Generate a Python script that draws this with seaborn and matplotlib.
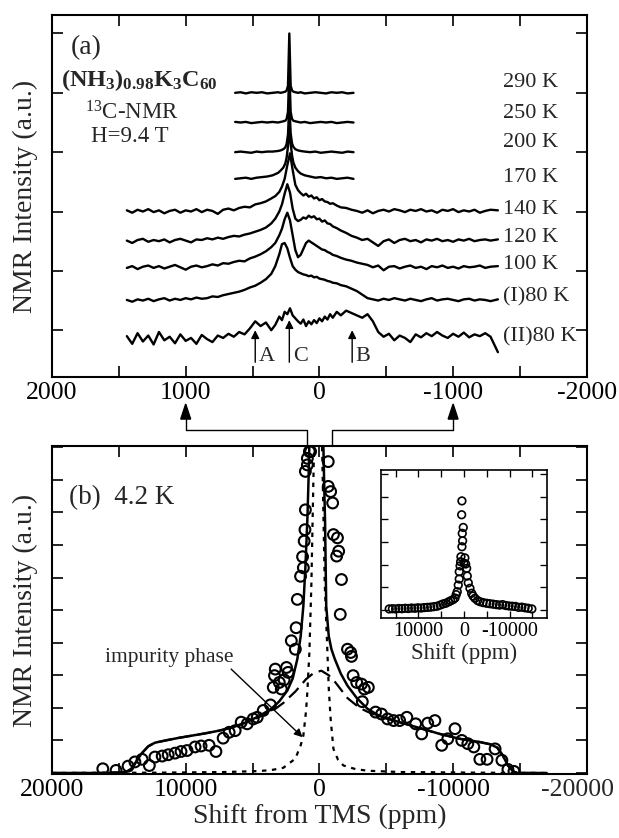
import matplotlib
matplotlib.use('Agg')
import matplotlib.pyplot as plt
from matplotlib.lines import Line2D
from matplotlib.ticker import MultipleLocator
import seaborn as sns

# ---------------- panel (a): spectra vs temperature ----------------
x_wide = [1440, 1400, 1360, 1320, 1280, 1240, 1200, 1160, 1120, 1080, 1040, 1000, 960, 920,
          880, 840, 800, 760, 720, 680, 640, 600, 560, 520, 480, 440, 400, 360, 330, 300,
          280, 260, 240, 220, 200, 180, 160, 140, 120, 100, 80, 60, 40, 20, 0, -20, -40,
          -60, -80, -100, -130, -160, -200, -240, -280, -320, -360, -400, -440, -480, -520,
          -560, -600, -640, -680, -720, -760, -800, -840, -880, -920, -960, -1000, -1040,
          -1080, -1120, -1160, -1200, -1240, -1280, -1335]

h_140 = [0.02, -0.02, 0.03, 0.0, 0.04, -0.01, 0.02, -0.03, 0.01, 0.03, -0.02, 0.02, 0.0, 0.04,
         -0.01, 0.03, 0.01, -0.04, 0.03, 0.05, 0.02, 0.06, 0.08, 0.07, 0.12, 0.14, 0.17, 0.22,
         0.26, 0.33, 0.42, 0.55, 0.78, 0.98, 0.70, 0.45, 0.36, 0.31, 0.27, 0.30, 0.25, 0.27,
         0.22, 0.24, 0.19, 0.21, 0.17, 0.16, 0.13, 0.14, 0.10, 0.07, 0.06, 0.03, 0.01, -0.02,
         0.02, -0.03, 0.01, 0.03, 0.0, 0.04, 0.02, -0.01, 0.03, 0.01, 0.04, 0.0, 0.02, -0.02,
         0.03, 0.01, 0.04, -0.01, 0.02, 0.0, 0.03, -0.02, 0.01, 0.03, 0.02]
h_120 = [0.01, -0.03, 0.02, 0.04, -0.01, 0.02, 0.0, 0.03, -0.02, 0.02, 0.04, 0.01, -0.02, 0.03,
         0.02, 0.05, 0.03, 0.06, 0.04, 0.07, 0.09, 0.08, 0.11, 0.13, 0.16, 0.19, 0.23, 0.30,
         0.38, 0.50, 0.62, 0.80, 0.96, 0.82, 0.55, 0.38, 0.34, 0.36, 0.40, 0.38, 0.43, 0.40,
         0.42, 0.37, 0.38, 0.33, 0.35, 0.30, 0.29, 0.25, 0.22, 0.18, 0.14, 0.09, 0.06, 0.02,
         0.04, -0.02, -0.08, 0.0, 0.03, -0.03, 0.02, 0.04, 0.0, 0.02, -0.02, 0.03, 0.01, 0.04,
         0.0, 0.02, -0.01, 0.03, 0.01, 0.04, 0.0, 0.02, 0.03, 0.01, 0.03]
h_100 = [0.0, 0.03, -0.02, 0.02, 0.04, 0.0, 0.03, -0.01, 0.02, 0.05, 0.01, -0.03, 0.02, 0.04,
         0.01, 0.03, 0.06, 0.04, 0.08, 0.07, 0.10, 0.12, 0.11, 0.16, 0.19, 0.23, 0.28, 0.35,
         0.42, 0.55, 0.66, 0.82, 0.93, 0.80, 0.55, 0.30, 0.18, 0.22, 0.32, 0.42, 0.46, 0.43,
         0.40, 0.37, 0.34, 0.31, 0.30, 0.27, 0.25, 0.22, 0.20, 0.17, 0.14, 0.12, 0.09, 0.07,
         0.05, 0.01, 0.04, -0.04, 0.02, 0.03, -0.01, 0.02, 0.04, 0.0, 0.02, -0.02, 0.03, 0.01,
         0.04, 0.0, 0.02, -0.01, 0.03, 0.01, 0.02, 0.04, 0.0, 0.02, 0.03]
h_80a = [0.01, -0.02, 0.02, 0.0, 0.03, -0.01, 0.02, 0.04, 0.0, 0.03, 0.01, 0.04, 0.02, 0.05,
         0.03, 0.04, 0.07, 0.06, 0.09, 0.11, 0.13, 0.15, 0.18, 0.22, 0.25, 0.30, 0.36, 0.45,
         0.58, 0.78, 0.95, 0.97, 0.88, 0.72, 0.58, 0.52, 0.48, 0.46, 0.44, 0.43, 0.41, 0.42,
         0.39, 0.40, 0.37, 0.36, 0.35, 0.33, 0.32, 0.30, 0.29, 0.26, 0.24, 0.20, 0.16, 0.10,
         0.04, 0.02, 0.0, 0.03, 0.01, 0.04, 0.02, 0.0, 0.03, 0.01, -0.01, 0.02, 0.04, 0.0,
         0.02, 0.03, 0.01, -0.01, 0.02, 0.03, 0.0, 0.02, 0.01, -0.01, 0.02]
h_80b = [0.05, -0.08, 0.10, -0.04, 0.06, -0.09, 0.12, -0.02, 0.04, -0.07, 0.08, -0.03, 0.02,
         -0.08, 0.07, 0.0, -0.05, 0.06, 0.02, 0.09, 0.04, 0.12, 0.08, 0.18, 0.30, 0.22, 0.28,
         0.15, 0.24, 0.38, 0.32, 0.46, 0.42, 0.52, 0.40, 0.35, 0.30, 0.26, 0.33, 0.22, 0.30,
         0.25, 0.32, 0.27, 0.35, 0.30, 0.38, 0.33, 0.42, 0.36, 0.46, 0.40, 0.48, 0.44, 0.40,
         0.36, 0.42, 0.30, 0.12, 0.04, 0.09, -0.02, 0.06, 0.02, -0.05, 0.08, 0.03, 0.10, 0.05,
         0.12, 0.06, 0.02, 0.09, 0.04, 0.11, 0.03, 0.08, 0.05, 0.10, 0.04, -0.22]

x_narrow = [630, 590, 550, 510, 470, 430, 390, 350, 310, 290, 270, 255, 245, 235, 225, 215,
            205, 195, 180, 160, 140, 110, 70, 30, -10, -50, -90, -130, -170, -210, -255]
h_290 = [0.0, 0.01, -0.01, 0.01, 0.0, 0.01, -0.01, 0.0, 0.01, 0.0, 0.01, 0.02, 0.04, 0.12, 1.0,
         0.12, 0.04, 0.02, 0.01, 0.0, 0.01, -0.01, 0.0, 0.01, 0.0, -0.01, 0.01, 0.0, 0.01, -0.01, 0.0]
h_250 = [0.01, 0.0, 0.01, -0.01, 0.0, 0.01, 0.0, 0.01, 0.0, 0.01, 0.02, 0.03, 0.06, 0.18, 0.9,
         0.18, 0.06, 0.03, 0.02, 0.01, 0.0, 0.01, -0.01, 0.0, 0.01, 0.0, 0.01, -0.01, 0.0, 0.01, 0.0]
h_200 = [0.0, 0.01, 0.0, -0.01, 0.01, 0.0, 0.01, 0.01, 0.02, 0.03, 0.05, 0.08, 0.14, 0.30, 0.80,
         0.32, 0.15, 0.09, 0.05, 0.03, 0.02, 0.01, 0.0, 0.01, -0.01, 0.0, 0.01, 0.0, -0.01, 0.01, 0.0]
h_170 = [0.0, 0.01, 0.02, 0.0, 0.02, 0.03, 0.04, 0.06, 0.10, 0.14, 0.19, 0.26, 0.36, 0.55, 0.88,
         0.60, 0.40, 0.28, 0.19, 0.13, 0.09, 0.06, 0.04, 0.02, 0.03, 0.01, 0.02, 0.0, 0.01, 0.02, 0.0]

temps = ['290 K', '250 K', '200 K', '170 K', '140 K', '120 K', '100 K', '(I)80 K', '(II)80 K']
offsets = [5.0, 4.5, 4.0, 3.55, 3.0, 2.5, 2.05, 1.5, 0.85]
peak_pos = [480, 225, -245]
peak_names = ['A', 'C', 'B']

# ---------------- panel (b): 4.2 K spectrum ----------------
x_circ = [16200, 15210, 14310, 13800, 13260, 12720, 12300, 11760, 11310, 10800, 10350, 9900,
          9300, 8850, 8250, 7740, 7200, 6750, 6300, 5850, 5400, 4950, 4650, 4200, 3660, 3450,
          3360, 3300, 3000, 2850, 2640, 2460, 2340, 2100, 1800, 1740, 1650, 1410, 1200, 1260,
          1140, 1080, 1050, 1050, 900, 900, 750, 660,
          -660, -660, -840, -990, -1050, -1350, -1440, -1290, -1650, -1560, -2100, -2340, -2400,
          -2520, -2790, -3150, -3360, -3660, -3210, -4200, -4650, -5100, -5550, -6000, -6540,
          -7200, -7650, -8100, -8640, -9150, -9600, -10140, -10650, -11100, -11550, -12000,
          -12540, -13140, -13650, -14100, -14550]
y_circ = [0.13, 0.08, 0.21, 0.34, 0.42, 0.23, 0.49, 0.52, 0.56, 0.61, 0.66, 0.69, 0.80, 0.83,
          0.85, 0.66, 1.07, 1.25, 1.30, 1.56, 1.51, 1.66, 1.71, 1.92, 2.09, 2.63, 2.99, 3.19,
          2.78, 2.58, 2.86, 3.24, 3.09, 4.06, 3.80, 4.46, 5.33, 6.04, 6.30, 6.64, 7.12, 7.47,
          8.08, 9.26, 9.46, 9.66, 9.87, 9.87,
          9.56, 8.80, 8.64, 8.29, 7.32, 7.22, 6.81, 6.66, 5.94, 4.87, 3.80, 3.70, 3.58, 2.99,
          2.78, 2.73, 2.58, 2.63, 2.19, 1.87, 1.81, 1.66, 1.61, 1.61, 1.71, 1.51, 1.20, 1.53,
          1.61, 0.85, 1.05, 1.36, 1.00, 0.90, 0.80, 0.42, 0.42, 0.74, 0.39, 0.11, 0.05]

x_fit = [20000, 16500, 14500, 14000, 13700, 13300, 12800, 12300, 11500, 10500, 9500, 8500,
         7500, 6500, 5500, 4500, 3600, 3000, 2400, 2000, 1650, 1400, 1200, 1050, 900, 800,
         700, 250, -250, -350, -420, -510, -700, -900, -1150, -1600, -2100, -2800, -3600,
         -4500, -6000, -7500, -9000, -10500, -12000, -12800, -13300, -13700, -14100, -14500,
         -14800, -17000]
y_fit = [0.0, 0.0, 0.02, 0.15, 0.35, 0.60, 0.82, 0.93, 1.00, 1.08, 1.15, 1.22, 1.30, 1.40,
         1.55, 1.75, 1.97, 2.20, 2.53, 2.90, 3.50, 4.20, 5.13, 6.30, 7.78, 9.20, 11.0, 14.0,
         11.0, 9.0, 7.78, 5.13, 4.20, 3.80, 3.50, 3.05, 2.68, 2.30, 1.97, 1.75, 1.56, 1.38,
         1.20, 1.05, 0.95, 0.88, 0.78, 0.55, 0.23, 0.05, 0.0, 0.0]

x_broad = [20000, 16500, 14500, 14000, 13700, 13300, 12800, 12300, 11500, 10500, 9500, 8500,
           7500, 6500, 5500, 4500, 3600, 2700, 1800, 1000, 400, -150, -700, -1200, -2100,
           -3000, -3600, -4500, -6000, -7500, -9000, -10500, -12000, -12800, -13300, -13700,
           -14100, -14500, -14800, -16800]
y_broad = [0.0, 0.0, 0.02, 0.15, 0.35, 0.60, 0.82, 0.93, 1.00, 1.08, 1.15, 1.22, 1.30, 1.40,
           1.55, 1.72, 1.88, 2.15, 2.50, 2.88, 3.08, 3.14, 3.00, 2.78, 2.30, 2.00, 1.88, 1.73,
           1.56, 1.38, 1.20, 1.05, 0.95, 0.88, 0.78, 0.55, 0.23, 0.05, 0.0, 0.0]

x_imp = [20000, 12000, 7000, 4500, 3600, 2700, 1800, 1400, 1200, 1000, 900, 750, 600, 450,
         300, 100, -100, -250, -400, -600, -700, -840, -1050, -1400, -1800, -2700, -3600,
         -6000, -12000, -17000]
y_imp = [0.0, 0.01, 0.03, 0.06, 0.09, 0.16, 0.44, 0.85, 1.15, 1.90, 2.50, 3.70, 5.80, 9.00,
         12.0, 14.0, 12.0, 9.0, 5.8, 3.7, 2.6, 1.66, 0.74, 0.40, 0.23, 0.12, 0.07, 0.03, 0.01, 0.0]

# inset: full spectrum
x_ins = [16400, 15700, 15000, 14300, 13600, 12900, 12200, 11500, 10800, 10100, 9400, 8700,
         8000, 7300, 6600, 5900, 5200, 4600, 4000, 3400, 2900, 2400, 1970, 1700, 1470, 1250,
         1030, 1030, 850, 730, 660, 440, 290, 370, 150, 500, 440,
         0, -200, -370, -590, -730, -950, -1320, -1690, -2000, -2410, -3000, -3500, -4200,
         -4980, -5700, -6400, -7100, -7800, -8500, -9200, -9900, -10600, -11300, -12000,
         -12700, -13400, -14100, -14900]
y_ins = [0.05, 0.06, 0.05, 0.07, 0.06, 0.08, 0.07, 0.09, 0.08, 0.10, 0.09, 0.11, 0.12, 0.13,
         0.15, 0.17, 0.22, 0.27, 0.30, 0.36, 0.41, 0.46, 0.53, 0.68, 0.81, 1.10, 1.37, 1.69,
         1.95, 2.13, 2.35, 2.79, 3.05, 3.38, 3.64, 4.20, 4.81,
         2.06, 2.30, 2.03, 1.84, 1.50, 1.20, 0.96, 0.74, 0.62, 0.52, 0.42, 0.37, 0.33, 0.30,
         0.28, 0.26, 0.24, 0.22, 0.24, 0.20, 0.18, 0.17, 0.16, 0.12, 0.13, 0.10, 0.08, 0.05]

# ---------------- figure ----------------
sns.set_style('ticks')
plt.rcParams['font.family'] = ['Liberation Serif', 'DejaVu Serif']
plt.rcParams['mathtext.fontset'] = 'custom'
plt.rcParams['mathtext.rm'] = 'Liberation Serif'
plt.rcParams['mathtext.bf'] = 'Liberation Serif:bold'
plt.rcParams['mathtext.it'] = 'Liberation Serif:italic'

fig = plt.figure(figsize=(6.19, 8.38), dpi=100)
ax_a = fig.add_axes([0.084, 0.550, 0.864, 0.432])
ax_b = fig.add_axes([0.084, 0.0764, 0.864, 0.391])
ax_in = fig.add_axes([0.6155, 0.2625, 0.268, 0.1766])


def style_axis(ax, fs, length, lw=1.5):
    for s in ax.spines.values():
        s.set_linewidth(lw)
        s.set_color('black')
    ax.tick_params(which='both', direction='in', top=True, right=True, length=length,
                   width=lw * 0.8, labelsize=fs, colors='black', labelleft=False)


narrow = [h_290, h_250, h_200, h_170]
wide = [h_140, h_120, h_100, h_80a, h_80b]
for i, h in enumerate(narrow + wide):
    xs = x_narrow if i < 4 else x_wide
    ys = [v + offsets[i] for v in h]
    sns.lineplot(x=xs, y=ys, ax=ax_a, color='black', lw=1.7, sort=False, estimator=None)

label_dy = [0.18, 0.16, 0.16, 0.03, 0.03, 0.07, 0.05, 0.06, 0.03]
for i, t in enumerate(temps):
    ax_a.text(-1370, offsets[i] + label_dy[i], t, fontsize=16, ha='left', va='center')

head_y = [1.0, 1.17, 1.0]
for p, n, hy in zip(peak_pos, peak_names, head_y):
    ax_a.annotate('', xy=(p, hy), xytext=(p, 0.46),
                  arrowprops=dict(arrowstyle='-|>', color='black', lw=1.0,
                                  mutation_scale=12, shrinkA=0, shrinkB=0))
    ax_a.text(p - 25, 0.55, n, fontsize=16, ha='left', va='center')

ax_a.text(1860, 5.76, '(a)', fontsize=20, ha='left', va='center')
ax_a.text(1935, 5.22, r'$\mathbf{(NH_3)_{0.98}K_3C_{60}}$', fontsize=17.5, ha='left', va='center')
ax_a.text(1400, 4.66, r'$^{13}$C-NMR', fontsize=16.5, ha='center', va='center')
ax_a.text(1420, 4.26, 'H=9.4 T', fontsize=16.5, ha='center', va='center')

ax_a.set_xlim(2000, -2000)
ax_a.set_ylim(0.21, 6.31)
ax_a.set_xticks([2000, 1000, 0, -1000, -2000])
ax_a.set_xticklabels(['2000', '1000', '0', '-1000', '-2000'])
ax_a.xaxis.set_minor_locator(MultipleLocator(500))
ax_a.yaxis.set_major_locator(MultipleLocator(1))
style_axis(ax_a, 18.5, 8)
ax_a.tick_params(which='minor', length=8)
ax_a.set_ylabel('NMR Intensity (a.u.)', fontsize=20, labelpad=10)
ax_a.set_xlabel('')

# panel (b)
sns.lineplot(x=x_imp, y=y_imp, ax=ax_b, color='black', lw=1.6, ls=(0, (2, 2.5)),
             sort=False, estimator=None)
sns.lineplot(x=x_broad, y=y_broad, ax=ax_b, color='black', lw=1.6, ls=(0, (6, 3)),
             sort=False, estimator=None)
sns.lineplot(x=x_fit, y=y_fit, ax=ax_b, color='black', lw=1.8, sort=False, estimator=None)
sns.scatterplot(x=x_circ, y=y_circ, ax=ax_b, marker='o', s=60, facecolor='none',
                edgecolor='black', linewidth=1.5, zorder=5)
ax_b.set_xlim(20000, -20000)
ax_b.set_ylim(-0.03, 10.03)
ax_b.set_xticks([20000, 10000, 0, -10000, -20000])
# last label is placed by hand, nudged left so it stays inside the figure
ax_b.set_xticklabels(['20000', '10000', '0', '-10000', ''])
ax_b.xaxis.set_minor_locator(MultipleLocator(5000))
ax_b.yaxis.set_major_locator(MultipleLocator(1))
style_axis(ax_b, 18.5, 8)
ax_b.tick_params(which='minor', length=8)
ax_b.annotate('-20000', xy=(1.0, 0.0), xycoords='axes fraction', xytext=(-7, -3.5),
              textcoords='offset points', ha='center', va='top', fontsize=18.5)
ax_b.set_ylabel('NMR Intensity (a.u.)', fontsize=20, labelpad=10)
ax_b.set_xlabel('Shift from TMS (ppm)', fontsize=20, labelpad=2)
ax_b.text(18730, 8.47, '(b)  4.2 K', fontsize=19.5, ha='left', va='center')
ax_b.text(11250, 3.55, 'impurity phase', fontsize=15.5, ha='center', va='center')
ax_b.annotate('', xy=(1260, 1.10), xytext=(6600, 3.19),
              arrowprops=dict(arrowstyle='-|>', color='black', lw=1.0, mutation_scale=12,
                              shrinkA=0, shrinkB=0))

# inset
sns.scatterplot(x=x_ins, y=y_ins, ax=ax_in, marker='o', s=30, facecolor='none',
                edgecolor='black', linewidth=1.2, zorder=5)
ax_in.set_xlim(18200, -18200)
ax_in.set_ylim(-0.35, 6.17)
ax_in.set_xticks([10000, 0, -10000])
ax_in.set_xticklabels(['10000', '0', '-10000'])
ax_in.xaxis.set_minor_locator(MultipleLocator(5000))
ax_in.yaxis.set_major_locator(MultipleLocator(1))
style_axis(ax_in, 14.5, 5, lw=1.2)
ax_in.tick_params(which='minor', length=5)
ax_in.tick_params(axis='x', pad=3)
ax_in.set_xlabel('Shift (ppm)', fontsize=16.5, labelpad=1)
ax_in.set_ylabel('')
ax_in.set_facecolor('white')

# connector from (b) to (a)
fig.canvas.draw()
inv = fig.transFigure.inverted()
y_mid = 1 - 430 / 838
y_tip = 1 - 404 / 838
for xv in (1000, -1000):
    xb, yb = inv.transform(ax_b.transData.transform((xv * 0.95, ax_b.get_ylim()[1])))
    xa, _ = inv.transform(ax_a.transData.transform((xv, ax_a.get_ylim()[0])))
    fig.add_artist(Line2D([xb, xb, xa, xa], [yb, y_mid, y_mid, y_tip - 0.012],
                          color='black', lw=1.0))
    fig.add_artist(plt.Polygon([[xa - 0.008, y_tip - 0.018], [xa + 0.008, y_tip - 0.018],
                                [xa, y_tip]], closed=True, color='black',
                               transform=fig.transFigure))

fig.savefig('out.png', dpi=100)
